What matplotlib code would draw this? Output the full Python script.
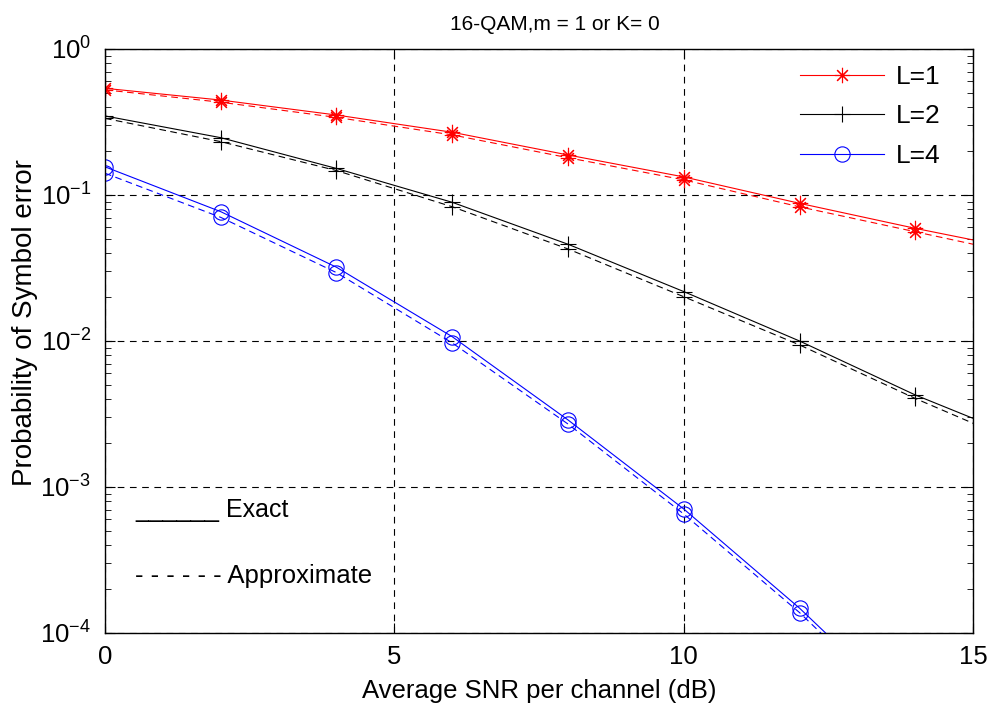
import numpy as np
import matplotlib
matplotlib.use('Agg')
import matplotlib.pyplot as plt
from matplotlib.ticker import LogLocator, NullFormatter

plt.rcParams['font.family'] = ['Liberation Sans', 'DejaVu Sans']
plt.rcParams['mathtext.fontset'] = 'custom'
plt.rcParams['mathtext.rm'] = 'Liberation Sans'

# values (SNR in dB, symbol error probability)
snr_db = [0, 2, 4, 6, 8, 10, 12, 14, 15]

l1_exact = [0.538, 0.447, 0.353, 0.269, 0.188, 0.133, 0.0877, 0.0591, 0.0492]
l1_approx = [0.525, 0.432, 0.340, 0.258, 0.180, 0.127, 0.0830, 0.0560, 0.0460]

l2_exact = [0.348, 0.247, 0.152, 0.0891, 0.0460, 0.0218, 0.0100, 0.00427, 0.00295]
l2_approx = [0.335, 0.232, 0.147, 0.0831, 0.0427, 0.0201, 0.0094, 0.00404, 0.00273]

l4_exact = [0.156, 0.0769, 0.0320, 0.0107, 0.00288, 0.000707, 0.000148, 2.6e-5, 1.1e-5]
l4_approx = [0.141, 0.0703, 0.0294, 0.0097, 0.00270, 0.000653, 0.000138, 2.4e-5, 1.0e-5]

series = [
    ('L=1', l1_exact, l1_approx, 'red', (8, 2, 0)),
    ('L=2', l2_exact, l2_approx, 'black', '+'),
    ('L=4', l4_exact, l4_approx, 'blue', 'o'),
]

fig = plt.figure(figsize=(9.9, 7.06), dpi=100)
ax = fig.add_axes([0.106, 0.1034, 0.877, 0.8272])

marks = slice(0, 8)
for label, ex, ap, col, mk in series:
    ax.semilogy(snr_db, ex, color=col, lw=0.8, marker=mk, ms=11, mew=0.8,
                mfc='none', markevery=marks, label=label)
    ax.semilogy(snr_db, ap, color=col, lw=0.8, ls=(0, (6, 4)), marker=mk, ms=11,
                mew=0.8, mfc='none', markevery=marks)

ax.set_xlim(0, 15)
ax.set_ylim(1e-4, 1)
ax.set_xticks([0, 5, 10, 15])
ax.yaxis.set_major_locator(LogLocator(base=10, numticks=10))
ax.yaxis.set_minor_locator(LogLocator(base=10, subs=np.arange(2, 10), numticks=10))
ax.yaxis.set_minor_formatter(NullFormatter())
ax.tick_params(which='both', direction='in', top=True, right=True, labelsize=18.5)
ax.tick_params(axis='x', pad=9)
ax.tick_params(axis='y', pad=10)
ax.tick_params(which='major', length=7)
ax.tick_params(which='minor', length=4)
ax.grid(True, which='major', color='black', ls=(0, (6, 5)), lw=0.8)
for s in ax.spines.values():
    s.set_linewidth(1.0)

ax.set_title('16-QAM,m = 1 or K= 0', fontsize=15, pad=14, x=0.518)
ax.set_xlabel('Average SNR per channel (dB)', fontsize=18.5)
ax.set_ylabel('Probability of Symbol error', fontsize=20)
ax.xaxis.set_label_coords(0.5, -0.078)
ax.yaxis.set_label_coords(-0.077, 0.531)

ax.legend(loc='upper right', frameon=False, fontsize=19, handlelength=3.2,
          handletextpad=0.45, labelspacing=0.58, bbox_to_anchor=(0.99, 1.013))

ax.text(0.035, 0.21, '______ Exact', transform=ax.transAxes, fontsize=18,
        va='center')
ax.text(0.035, 0.098, '- - - - - - Approximate', transform=ax.transAxes,
        fontsize=18.5, va='center')

fig.savefig('out.png', dpi=100)
